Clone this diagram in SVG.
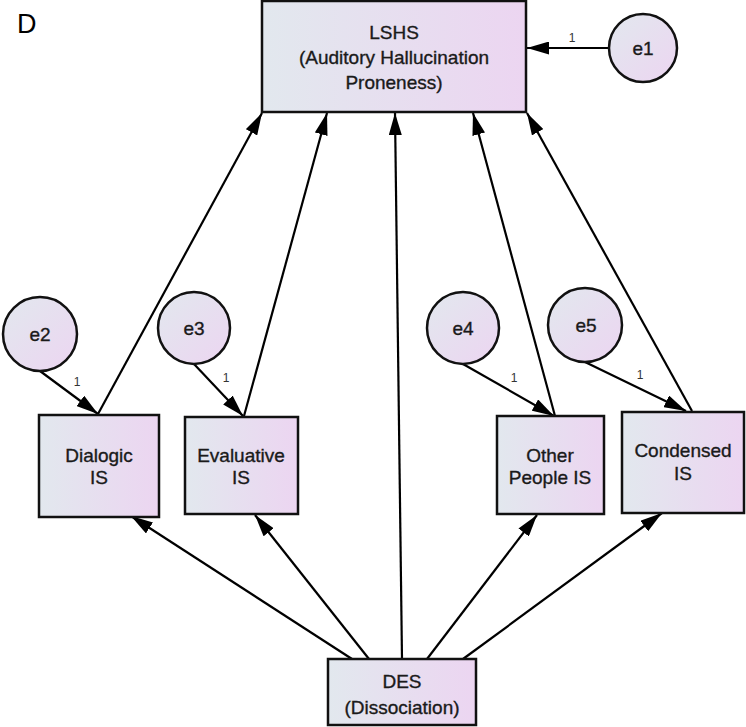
<svg xmlns="http://www.w3.org/2000/svg" width="746" height="727" viewBox="0 0 746 727">
<defs>
<linearGradient id="g" x1="0" y1="0" x2="1" y2="0">
<stop offset="0" stop-color="#e2e8ee"/>
<stop offset="1" stop-color="#ecd5f1"/>
</linearGradient>
<linearGradient id="gc" x1="0" y1="0" x2="1" y2="1">
<stop offset="0" stop-color="#e2e8ee"/>
<stop offset="1" stop-color="#ecd5f1"/>
</linearGradient>
<marker id="ah" viewBox="0 0 22 13" refX="22" refY="6.5" markerWidth="22" markerHeight="13" markerUnits="userSpaceOnUse" orient="auto">
<path d="M0,0 L22,6.5 L0,13 z" fill="#000"/>
</marker>
<style>
.box{fill:url(#g);stroke:#111;stroke-width:2.5}
.circ{fill:url(#gc);stroke:#111;stroke-width:2.5}
.t{font-family:"Liberation Sans",Arial,sans-serif;font-size:19px;fill:#1a1a1a;stroke:#1a1a1a;stroke-width:0.35;text-anchor:middle}
.e{font-family:"Liberation Sans",Arial,sans-serif;font-size:19px;fill:#1a1a1a;stroke:#1a1a1a;stroke-width:0.35;text-anchor:middle}
.one{font-family:"Liberation Sans",Arial,sans-serif;font-size:12px;fill:#333;text-anchor:middle}
.c line{stroke:#000;stroke-width:2.2;marker-end:url(#ah)}
</style>
</defs>
<rect width="746" height="727" fill="#fff"/>
<text x="17" y="33" style="font-family:'Liberation Sans',Arial,sans-serif;font-size:27px;fill:#000">D</text>
<g class="c" id="connectors">
<line x1="608" y1="48" x2="527" y2="48"/>
<line x1="98" y1="414" x2="262" y2="113"/>
<line x1="244" y1="416" x2="327" y2="113"/>
<line x1="402" y1="659" x2="395" y2="113"/>
<line x1="555" y1="416" x2="473" y2="113"/>
<line x1="692" y1="411" x2="527" y2="113"/>
<line x1="40" y1="371" x2="98" y2="414"/>
<line x1="194" y1="364" x2="243" y2="416"/>
<line x1="463" y1="364" x2="554" y2="416"/>
<line x1="585" y1="362" x2="686" y2="411"/>
<line x1="352" y1="659" x2="131" y2="516"/>
<line x1="369" y1="659" x2="255" y2="515"/>
<line x1="427" y1="659" x2="537" y2="515"/>
<line x1="463" y1="659" x2="662" y2="513"/>
</g>
<g id="labels">
<text class="one" x="572" y="42">1</text>
<text class="one" x="77" y="386">1</text>
<text class="one" x="226" y="382">1</text>
<text class="one" x="514" y="382">1</text>
<text class="one" x="640" y="379">1</text>
</g>
<g id="LSHS">
<rect class="box" x="262" y="1" width="264" height="111"/>
<text class="t" x="394" y="39">LSHS</text>
<text class="t" x="394" y="64">(Auditory Hallucination</text>
<text class="t" x="394" y="89">Proneness)</text>
</g>
<g id="e1"><circle class="circ" cx="643" cy="48" r="34"/><text class="e" x="643" y="55">e1</text></g>
<g id="e2"><circle class="circ" cx="40" cy="334" r="37"/><text class="e" x="40" y="341">e2</text></g>
<g id="e3"><circle class="circ" cx="194" cy="328" r="36"/><text class="e" x="194" y="335">e3</text></g>
<g id="e4"><circle class="circ" cx="463" cy="328" r="36"/><text class="e" x="463" y="335">e4</text></g>
<g id="e5"><circle class="circ" cx="585" cy="325" r="37"/><text class="e" x="586" y="332">e5</text></g>
<g id="Dialogic">
<rect class="box" x="39" y="415" width="120" height="102"/>
<text class="t" x="99" y="462">Dialogic</text>
<text class="t" x="99" y="484">IS</text>
</g>
<g id="Evaluative">
<rect class="box" x="185" y="417" width="113" height="97"/>
<text class="t" x="241" y="462">Evaluative</text>
<text class="t" x="241" y="484">IS</text>
</g>
<g id="OtherPeople">
<rect class="box" x="497" y="416" width="107" height="98"/>
<text class="t" x="550" y="462">Other</text>
<text class="t" x="550" y="484">People IS</text>
</g>
<g id="Condensed">
<rect class="box" x="622" y="412" width="122" height="101"/>
<text class="t" x="683" y="457">Condensed</text>
<text class="t" x="683" y="480">IS</text>
</g>
<g id="DES">
<rect class="box" x="328" y="659" width="148" height="66"/>
<text class="t" x="402" y="688">DES</text>
<text class="t" x="402" y="714">(Dissociation)</text>
</g>
</svg>
